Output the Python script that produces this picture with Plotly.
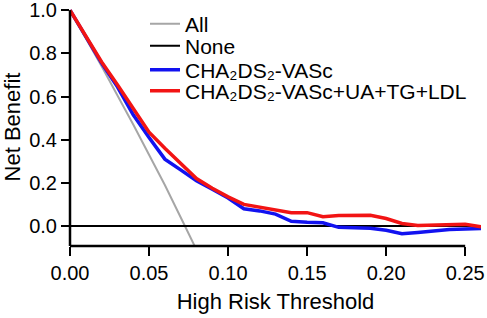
import plotly.graph_objects as go

# ---- data ----
thresholds = [0.00, 0.01, 0.02, 0.03, 0.04, 0.05, 0.06, 0.07, 0.08, 0.09,
              0.10, 0.11, 0.12, 0.13, 0.14, 0.15, 0.16, 0.17, 0.18, 0.19,
              0.20, 0.21, 0.22, 0.23, 0.24, 0.25, 0.26]
nb_cha = [1.0, 0.875, 0.755, 0.645, 0.515, 0.41, 0.31, 0.26, 0.21, 0.17,
          0.13, 0.08, 0.07, 0.055, 0.022, 0.017, 0.015, -0.006, -0.008, -0.01,
          -0.02, -0.036, -0.03, -0.023, -0.016, -0.014, -0.012]
nb_full = [1.0, 0.877, 0.76, 0.655, 0.545, 0.435, 0.36, 0.29, 0.22, 0.175,
           0.135, 0.10, 0.088, 0.075, 0.062, 0.062, 0.043, 0.049, 0.05, 0.05,
           0.035, 0.012, 0.002, 0.003, 0.008, 0.008, -0.003]
all_t = [0.00, 0.02, 0.04, 0.06, 0.0727, 0.08]
all_nb = [1.0, 0.74, 0.47, 0.19, 0.0, -0.11]
none_t = [0.00, 0.26]
none_nb = [0.0, 0.0]

x_ticks = [0.00, 0.05, 0.10, 0.15, 0.20, 0.25]
x_labels = ["0.00", "0.05", "0.10", "0.15", "0.20", "0.25"]
y_ticks = [0.0, 0.2, 0.4, 0.6, 0.8, 1.0]
y_labels = ["0.0", "0.2", "0.4", "0.6", "0.8", "1.0"]

names = ["All", "None", "CHA₂DS₂-VASc", "CHA₂DS₂-VASc+UA+TG+LDL"]

FONT = "Liberation Sans, Arial, sans-serif"
Y_MIN, Y_MAX = -0.0926, 1.01
X_MIN, X_MAX = 0.0, 0.26

fig = go.Figure()
fig.add_trace(go.Scatter(x=all_t, y=all_nb, mode="lines", name=names[0],
                         line=dict(color="#a6a6a6", width=2), legend="legend"))
fig.add_trace(go.Scatter(x=none_t, y=none_nb, mode="lines", name=names[1],
                         line=dict(color="#000000", width=2), legend="legend2"))
fig.add_trace(go.Scatter(x=thresholds, y=nb_cha, mode="lines", name=names[2],
                         line=dict(color="#1212f0", width=3.5), legend="legend3"))
fig.add_trace(go.Scatter(x=thresholds, y=nb_full, mode="lines", name=names[3],
                         line=dict(color="#f21414", width=3.5), legend="legend4"))

W, H = 487, 318
L, R, T, B = 70, 6, 8, 72
ph = H - T - B
pw = W - L - R

def leg(py):
    return dict(x=(145 - L) / pw, y=(H - B - py) / ph,
                xanchor="left", yanchor="middle",
                bgcolor="rgba(0,0,0,0)", borderwidth=0,
                font=dict(family=FONT, size=21, color="black"))

fig.update_layout(
    width=W, height=H,
    margin=dict(l=L, r=R, t=T, b=B, autoexpand=False),
    paper_bgcolor="white", plot_bgcolor="white",
    font=dict(family=FONT, color="black"),
    showlegend=True,
    legend=leg(24), legend2=leg(46), legend3=leg(70), legend4=leg(91),
    xaxis=dict(range=[X_MIN, X_MAX], tickvals=x_ticks, ticktext=x_labels,
               ticks="outside", ticklen=9, tickwidth=2, tickcolor="black",
               showgrid=False, zeroline=False, showline=False,
               ticklabeloverflow="allow",
               tickfont=dict(family=FONT, size=20),
               title=dict(text="High Risk Threshold", font=dict(family=FONT, size=22),
                          standoff=10)),
    yaxis=dict(range=[Y_MIN, Y_MAX], tickvals=y_ticks, ticktext=y_labels,
               ticks="outside", ticklen=8, tickwidth=2, tickcolor="black",
               showgrid=False, zeroline=False, showline=False,
               ticklabeloverflow="allow",
               tickfont=dict(family=FONT, size=20),
               title=dict(text="Net Benefit", font=dict(family=FONT, size=22),
                          standoff=8)),
)

# axis lines in R style: x axis spans first to last tick, y axis spans full height
fig.add_shape(type="line", xref="x", yref="paper", x0=x_ticks[0], x1=x_ticks[-1],
              y0=0, y1=0, line=dict(color="black", width=2.5))
fig.add_shape(type="line", xref="paper", yref="y", x0=0, x1=0,
              y0=Y_MIN, y1=y_ticks[-1], line=dict(color="black", width=2.5))

fig.write_html("out.html", config={"displayModeBar": False},
               post_script="document.body.style.margin='0';document.body.style.overflow='hidden';")
